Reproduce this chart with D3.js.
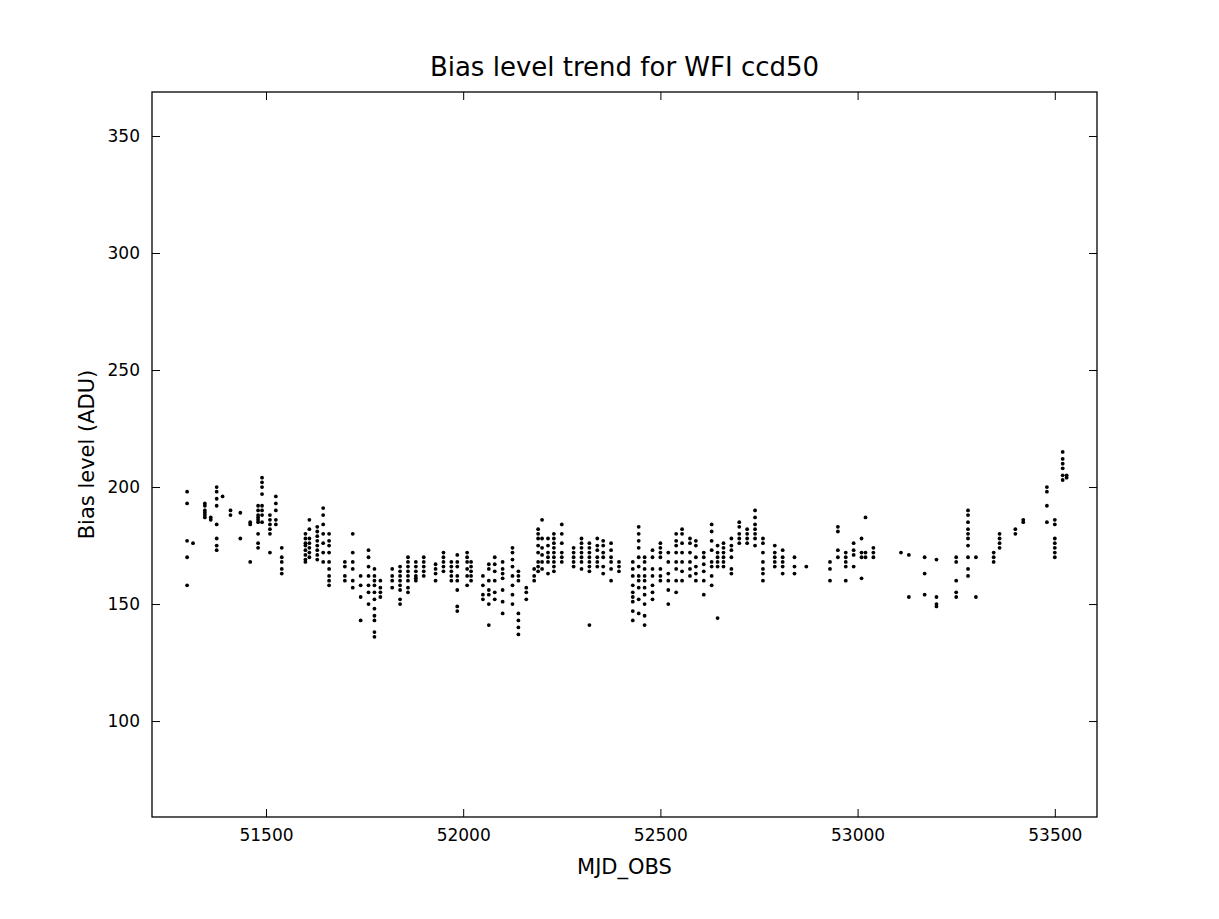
<!DOCTYPE html><html><head><meta charset="utf-8">
<script src="https://cdn.jsdelivr.net/npm/d3@7"></script>
<style>body{margin:0;background:#fff}text{font-family:"DejaVu Sans",sans-serif}</style></head><body>
<svg id="c" width="1219" height="919"></svg>
<script>
const title="Bias level trend for WFI ccd50";
const xLabel="MJD_OBS";
const yLabel="Bias level (ADU)";
const xTicks=[51500,52000,52500,53000,53500];
const yTicks=[100,150,200,250,300,350];
// each night: [MJD, bias values]
const nights=[
[51300,[198,193,177,170,158]],[51315,[176]],[51345,[189,190,192,193,187,188]],[51360,[186,187]],
[51375,[200,198,195,192,184,178,175,173]],[51390,[196]],[51410,[190,188]],[51435,[189,178]],
[51460,[185,184,168]],[51480,[186,188,190,192,187,185,180,176,174]],[51490,[204,202,200,197,192,190,188,185]],
[51510,[188,186,184,182,180,172]],[51525,[196,193,190,186,184]],[51540,[174,170,168,165,163]],
[51600,[180,178,176,175,173,171,169,168]],[51610,[186,182,178,176,174,172,170]],
[51630,[183,181,179,177,175,173,171,169]],[51645,[191,188,184,180,176,172,168]],
[51660,[180,177,175,172,168,165,162,160,158]],[51700,[168,166,162,160]],[51720,[180,172,168,165,160,157]],
[51740,[162,158,153,143]],[51760,[173,170,166,162,158,155,150]],
[51775,[165,162,160,158,155,152,148,145,143,138,136]],[51790,[160,157,155,153]],[51820,[165,162,160,157]],
[51840,[166,164,162,160,158,156,152,150]],[51860,[170,168,166,164,162,160,157,155]],
[51880,[168,166,164,162,161,160]],[51900,[170,168,166,164,162]],[51930,[167,165,163,160]],
[51950,[172,170,168,166,164]],[51970,[168,166,164,162,160]],[51985,[171,168,166,162,160,156,149,147]],
[52010,[172,170,168,165,162,158]],[52020,[168,166,164,162,160]],[52050,[162,158,154,152]],
[52065,[167,165,160,156,154,150,141]],[52080,[170,167,164,160,155,152]],[52100,[168,165,163,161,156,151,146]],
[52125,[174,172,169,166,162,158,154,150]],[52140,[164,162,160,146,143,140,137]],[52160,[157,155,152]],
[52180,[165,162,160]],[52190,[182,180,178,175,172,168,166,164]],[52200,[186,178,174,171,168,165]],
[52215,[178,175,172,170,168,163]],[52230,[180,178,176,174,172,170,168,166,164]],[52250,[184,180,176,172,170,168]],
[52280,[174,172,170,168,166]],[52300,[178,176,174,172,170,168,165]],[52320,[176,174,172,170,168,166,164,141]],
[52340,[178,175,173,170,168,166]],[52355,[177,175,172,170,166,163]],[52375,[176,173,170,168,165,160]],
[52395,[168,166,164]],[52430,[168,165,162,158,155,153,151,147,143]],
[52445,[183,180,177,174,170,166,162,160,157,152,146]],[52460,[170,168,165,162,160,157,154,150,145,141]],
[52480,[173,170,165,162,158,155,152]],[52500,[176,174,172,170,165,162,160]],[52520,[172,168,163,160,156,150]],
[52540,[180,177,175,172,168,165,160,155]],[52555,[182,180,176,172,168,164,160]],[52575,[178,176,172,168,165,162]],
[52590,[177,175,170,166,163,160]],[52610,[172,170,167,164,160,154]],[52630,[184,181,177,173,168,166,162,158]],
[52645,[175,172,170,168,166,144]],[52660,[176,174,172,170,168,166]],[52680,[178,175,173,170,165,163]],
[52700,[185,183,180,178,176]],[52720,[182,180,178,176]],[52740,[190,187,184,182,180,178,175]],
[52760,[178,176,172,168,165,163,160]],[52790,[175,172,170,168,166]],[52810,[173,170,168,166,163]],
[52840,[170,166,163]],[52870,[166]],[52930,[168,165,160]],[52950,[183,181,173,170]],
[52970,[172,170,168,166,160]],[52990,[176,173,171,166]],[53010,[178,172,170,161]],[53020,[187,172,170]],
[53040,[174,172,170]],[53110,[172]],[53130,[171,153]],[53170,[170,163,154]],[53200,[169,153,150,149]],
[53250,[170,168,160,155,153]],[53280,[190,188,185,182,180,178,175,170,165,162]],[53300,[170,153]],
[53345,[172,170,168]],[53360,[180,178,176,174]],[53400,[182,180]],[53420,[186,185]],
[53480,[200,198,192,185]],[53500,[186,184,178,176,174,172,170]],[53520,[215,212,210,208,205,203]],[53530,[205,204]]
];
const pts=nights.flatMap(([m,vs])=>vs.map(v=>[m,v]));
const svg=d3.select("#c");
const L=152,R=1097,T=92,B=817;
const x=d3.scaleLinear().domain([51211,53607]).range([L,R]);
const y=d3.scaleLinear().domain([59,368.8]).range([B,T]);
svg.append("g").selectAll("circle").data(pts).join("circle")
 .attr("cx",d=>x(d[0])).attr("cy",d=>y(d[1])).attr("r",1.9).attr("fill","#000");
const ax=(g,a)=>g.call(a).call(s=>s.select(".domain").remove()).call(s=>s.selectAll("text").attr("font-size",17).attr("font-family","DejaVu Sans").attr("fill","#000")).call(s=>s.selectAll("line").attr("stroke","#000"));
svg.append("g").attr("transform",`translate(0,${B})`).call(g=>ax(g,d3.axisBottom(x).tickValues(xTicks).tickFormat(d3.format("d")).tickSizeInner(-8).tickPadding(12)));
svg.append("g").attr("transform",`translate(0,${T})`).call(g=>ax(g,d3.axisTop(x).tickValues(xTicks).tickFormat("").tickSizeInner(-8)));
svg.append("g").attr("transform",`translate(${L},0)`).call(g=>ax(g,d3.axisLeft(y).tickValues(yTicks).tickFormat(d3.format("d")).tickSizeInner(-8).tickPadding(12)));
svg.append("g").attr("transform",`translate(${R},0)`).call(g=>ax(g,d3.axisRight(y).tickValues(yTicks).tickFormat("").tickSizeInner(-8)));
svg.append("rect").attr("x",L).attr("y",T).attr("width",R-L).attr("height",B-T).attr("fill","none").attr("stroke","#000").attr("stroke-width",1.3);
svg.append("text").attr("x",(L+R)/2).attr("y",76).attr("text-anchor","middle").attr("font-size",26).text(title);
svg.append("text").attr("x",(L+R)/2).attr("y",874).attr("text-anchor","middle").attr("font-size",21).text(xLabel);
svg.append("text").attr("transform",`translate(94,${(T+B)/2}) rotate(-90)`).attr("text-anchor","middle").attr("font-size",21).text(yLabel);
</script></body></html>
